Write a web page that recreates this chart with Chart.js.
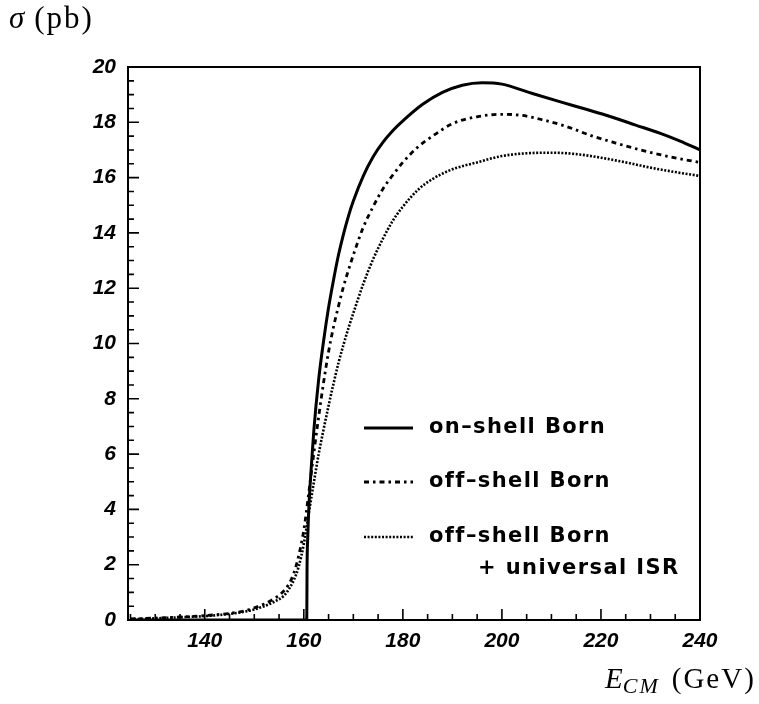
<!DOCTYPE html>
<html>
<head>
<meta charset="utf-8">
<script src="https://cdn.jsdelivr.net/npm/chart.js@4"></script>
<style>
  html, body { margin: 0; padding: 0; background: #fff; }
  #wrap { position: relative; width: 759px; height: 704px; overflow: hidden; }
  .lbl { position: absolute; font-family: "Liberation Serif", serif; color: #000; white-space: nowrap; }
  #ylab { left: 9px; top: 2px; font-size: 31px; line-height: 31px; }
  #ylab .p { letter-spacing: 2px; margin-left: 10px; }
  #xlab { left: 605px; top: 664px; font-size: 29px; line-height: 29px; }
  #xlab .p { letter-spacing: 2px; margin-left: 12px; }
  #xlab sub { font-size: 22px; font-style: italic; vertical-align: -5px; letter-spacing: 2px; line-height: 0; }
</style>
</head>
<body>
<div id="wrap">
  <canvas id="chart" width="759" height="704"></canvas>
  <div class="lbl" id="ylab"><i>σ</i><span class="p">(pb)</span></div>
  <div class="lbl" id="xlab"><i>E</i><sub>CM</sub><span class="p">(GeV)</span></div>
</div>
<script>
// on-shell Born
const onShellE = [125, 160.6, 160.65, 160.8, 161, 161.5, 162, 163, 164, 165, 166, 167, 168, 169, 170, 172, 174, 176, 178, 180, 184, 188, 192, 196, 200, 206, 212, 217, 222, 227, 232, 236, 240];
const onShellSigma = [0, 0, 1.8, 3.0, 4.0, 5.5, 6.8, 8.7, 10.1, 11.3, 12.3, 13.2, 13.95, 14.6, 15.15, 16.05, 16.75, 17.28, 17.7, 18.05, 18.65, 19.08, 19.34, 19.43, 19.38, 19.05, 18.73, 18.47, 18.2, 17.9, 17.6, 17.32, 17.0];

// off-shell Born
const offShellE = [125, 130, 135, 140, 145, 148, 150, 152, 154, 155.5, 157, 158, 159, 160, 161, 162, 163, 164, 165, 166, 167, 168, 169, 170, 172, 174, 176, 178, 180, 183, 186, 190, 195, 200, 204, 208, 213, 218, 223, 228, 234, 240];
const offShellSigma = [0.04, 0.07, 0.11, 0.16, 0.24, 0.33, 0.44, 0.58, 0.77, 0.97, 1.3, 1.7, 2.35, 3.25, 4.6, 6.0, 7.35, 8.6, 9.7, 10.6, 11.35, 12.05, 12.65, 13.2, 14.2, 14.95, 15.6, 16.1, 16.55, 17.1, 17.5, 17.95, 18.2, 18.29, 18.25, 18.1, 17.85, 17.52, 17.25, 17.0, 16.75, 16.55];

// off-shell Born + universal ISR
const isrE = [125, 130, 135, 140, 145, 148, 150, 152, 154, 156, 157, 158, 159, 160, 161, 162, 163, 164, 165, 166, 167, 168, 169, 170, 172, 174, 176, 178, 180, 183, 186, 190, 195, 200, 205, 210, 215, 220, 225, 230, 235, 240];
const isrSigma = [0.03, 0.06, 0.1, 0.14, 0.22, 0.3, 0.38, 0.5, 0.66, 0.88, 1.12, 1.45, 1.95, 2.75, 3.85, 4.95, 6.0, 6.9, 7.75, 8.55, 9.3, 9.95, 10.55, 11.1, 12.15, 13.05, 13.8, 14.45, 14.95, 15.55, 15.95, 16.3, 16.55, 16.78, 16.88, 16.9, 16.85, 16.72, 16.55, 16.36, 16.2, 16.06];

const xTicks = [140, 160, 180, 200, 220, 240];
const legendLabels = [["on\u2013shell Born"], ["off\u2013shell Born"], ["off\u2013shell Born", "+ universal ISR"]];

const toPoints = (xs, ys) => xs.map((x, i) => ({x: x, y: ys[i]}));

// ticks drawn inward, frame box, and legend inside the plot
const framePlugin = {
  id: "frame",
  afterDatasetsDraw(chart) {
    const ctx = chart.ctx;
    const a = chart.chartArea;
    const xs = chart.scales.x, ys = chart.scales.y;
    ctx.save();
    ctx.strokeStyle = "#000";
    ctx.lineWidth = 2;
    ctx.strokeRect(a.left, a.top, a.right - a.left, a.bottom - a.top);
    ctx.lineWidth = 1.6;
    ctx.beginPath();
    for (let v = 125; v < 240; v += 5) {
      const px = xs.getPixelForValue(v);
      const len = v % 20 === 0 ? 11 : 6;
      ctx.moveTo(px, a.bottom);
      ctx.lineTo(px, a.bottom - len);
    }
    for (let v = 0.5; v < 20; v += 0.5) {
      const py = ys.getPixelForValue(v);
      const len = v % 2 === 0 ? 11 : 6;
      ctx.moveTo(a.left, py);
      ctx.lineTo(a.left + len, py);
    }
    ctx.stroke();

    // legend
    const x0 = 364, x1 = 413, tx = 429;
    const rows = [428, 482, 537];
    ctx.font = "bold 21px 'DejaVu Sans'";
    ctx.letterSpacing = "1.4px";
    ctx.textBaseline = "middle";
    ctx.fillStyle = "#000";
    chart.data.datasets.forEach((ds, i) => {
      ctx.setLineDash(ds.borderDash || []);
      ctx.lineWidth = ds.borderWidth;
      ctx.beginPath();
      ctx.moveTo(x0, rows[i]);
      ctx.lineTo(x1, rows[i]);
      ctx.stroke();
      ctx.setLineDash([]);
      ctx.textAlign = "left";
      ctx.fillText(legendLabels[i][0], tx, rows[i]);
      if (legendLabels[i][1]) {
        ctx.fillText(legendLabels[i][1], 478, rows[i] + 32);
      }
    });
    ctx.restore();
  }
};

const ctx = document.getElementById("chart").getContext("2d");
new Chart(ctx, {
  type: "line",
  data: {
    datasets: [
      {
        label: "on-shell Born",
        data: toPoints(onShellE, onShellSigma),
        borderColor: "#000",
        borderWidth: 3,
        pointRadius: 0,
        cubicInterpolationMode: "monotone"
      },
      {
        label: "off-shell Born",
        data: toPoints(offShellE, offShellSigma),
        borderColor: "#000",
        borderWidth: 2.8,
        borderDash: [5, 4, 2.5, 4],
        pointRadius: 0,
        cubicInterpolationMode: "monotone"
      },
      {
        label: "off-shell Born + universal ISR",
        data: toPoints(isrE, isrSigma),
        borderColor: "#000",
        borderWidth: 2.6,
        borderDash: [2, 1.6],
        pointRadius: 0,
        cubicInterpolationMode: "monotone"
      }
    ]
  },
  options: {
    responsive: false,
    animation: false,
    layout: { padding: { top: 67, right: 59, left: 0, bottom: 0 } },
    plugins: { legend: { display: false }, tooltip: { enabled: false } },
    scales: {
      x: {
        type: "linear",
        min: 124.5,
        max: 240,
        afterBuildTicks: scale => { scale.ticks = xTicks.map(v => ({value: v})); },
        afterFit: scale => { scale.height = 84; },
        grid: { display: false, drawTicks: false },
        border: { display: false },
        ticks: {
          padding: 9,
          color: "#000",
          maxRotation: 0,
          font: { family: "'Liberation Sans'", size: 21, weight: "bold", style: "italic" }
        }
      },
      y: {
        min: 0,
        max: 20,
        afterFit: scale => { scale.width = 128; },
        grid: { display: false, drawTicks: false },
        border: { display: false },
        ticks: {
          stepSize: 2,
          padding: 12,
          color: "#000",
          font: { family: "'Liberation Sans'", size: 21, weight: "bold", style: "italic" }
        }
      }
    }
  },
  plugins: [framePlugin]
});
</script>
</body>
</html>
